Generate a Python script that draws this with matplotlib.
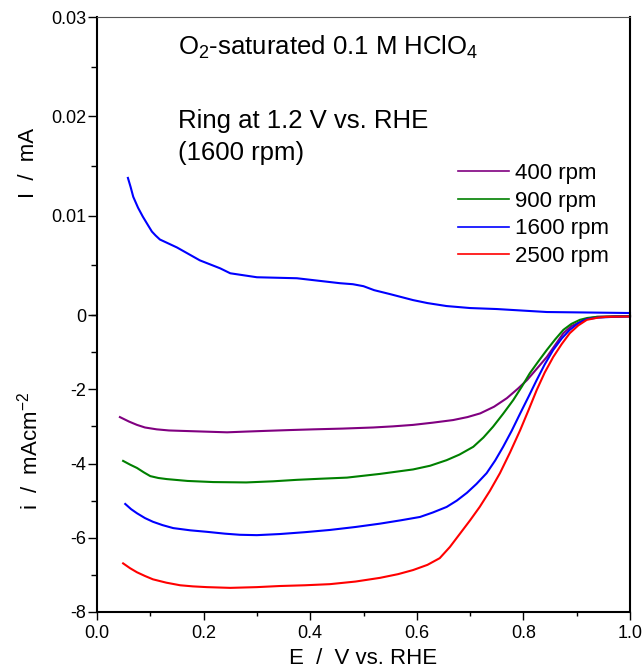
import matplotlib
matplotlib.use("Agg")
import matplotlib.pyplot as plt
from matplotlib.ticker import MultipleLocator, FixedLocator

plt.rcParams['font.family'] = ['Liberation Sans', 'DejaVu Sans']
plt.rcParams['mathtext.fontset'] = 'custom'
plt.rcParams['mathtext.rm'] = 'Liberation Sans'
plt.rcParams['mathtext.it'] = 'Liberation Sans:italic'
plt.rcParams['mathtext.bf'] = 'Liberation Sans:bold'
plt.rcParams['axes.unicode_minus'] = False

# ---------------- data ----------------
# Ring current (1600 rpm), mA
ring_E = [0.058, 0.063, 0.068, 0.077, 0.086, 0.095, 0.103, 0.110, 0.118, 0.150, 0.193,
          0.231, 0.250, 0.300, 0.375, 0.456, 0.480, 0.500, 0.520, 0.550, 0.593, 0.620,
          0.656, 0.700, 0.750, 0.844, 1.000]
ring_I = [0.0138, 0.0129, 0.0119, 0.0108, 0.0099, 0.0091, 0.0084, 0.0080, 0.0076, 0.0068,
          0.0055, 0.0047, 0.0042, 0.0038, 0.0037, 0.0032, 0.0031, 0.0029, 0.0025, 0.0021,
          0.0015, 0.0012, 0.0009, 0.0007, 0.0006, 0.0003, 0.0002]

# Disk current density, mA cm^-2
E_400 = [0.043, 0.060, 0.075, 0.090, 0.112, 0.135, 0.156, 0.200, 0.244, 0.280, 0.319,
         0.360, 0.406, 0.460, 0.518, 0.555, 0.593, 0.630, 0.668, 0.695, 0.719, 0.745,
         0.769, 0.790, 0.807, 0.825, 0.844, 0.860, 0.875, 0.890, 0.906, 0.920, 0.938,
         0.970, 1.000]
i_400 = [-2.75, -2.87, -2.96, -3.03, -3.08, -3.11, -3.12, -3.14, -3.16, -3.14, -3.12,
         -3.10, -3.08, -3.06, -3.03, -3.00, -2.96, -2.90, -2.83, -2.75, -2.65, -2.47,
         -2.24, -1.98, -1.75, -1.45, -1.13, -0.80, -0.49, -0.30, -0.19, -0.10, -0.05,
         -0.035, -0.03]

E_900 = [0.049, 0.062, 0.075, 0.088, 0.100, 0.115, 0.131, 0.170, 0.218, 0.280, 0.330,
         0.375, 0.420, 0.469, 0.531, 0.593, 0.625, 0.656, 0.680, 0.706, 0.725, 0.743,
         0.762, 0.781, 0.797, 0.812, 0.828, 0.844, 0.860, 0.875, 0.890, 0.906, 0.920,
         0.938, 1.000]
i_900 = [-3.93, -4.03, -4.12, -4.24, -4.34, -4.39, -4.42, -4.47, -4.50, -4.51, -4.48,
         -4.44, -4.41, -4.38, -4.28, -4.16, -4.06, -3.91, -3.76, -3.55, -3.30, -3.01,
         -2.66, -2.29, -1.93, -1.57, -1.25, -0.94, -0.65, -0.40, -0.24, -0.13, -0.08,
         -0.05, -0.03]

E_1600 = [0.053, 0.064, 0.075, 0.090, 0.105, 0.123, 0.143, 0.175, 0.206, 0.240, 0.268,
          0.300, 0.343, 0.390, 0.437, 0.485, 0.531, 0.570, 0.606, 0.630, 0.656, 0.675,
          0.694, 0.712, 0.731, 0.747, 0.762, 0.778, 0.794, 0.810, 0.825, 0.840, 0.856,
          0.872, 0.887, 0.903, 0.919, 0.940, 0.968, 1.000]
i_1600 = [-5.09, -5.23, -5.34, -5.47, -5.57, -5.66, -5.74, -5.80, -5.84, -5.89, -5.92,
          -5.93, -5.90, -5.85, -5.79, -5.71, -5.62, -5.53, -5.44, -5.32, -5.17, -5.00,
          -4.79, -4.55, -4.26, -3.92, -3.55, -3.12, -2.65, -2.19, -1.75, -1.33, -0.94,
          -0.63, -0.40, -0.22, -0.11, -0.07, -0.05, -0.04]

E_2500 = [0.049, 0.062, 0.075, 0.090, 0.105, 0.130, 0.156, 0.180, 0.206, 0.250, 0.300,
          0.343, 0.390, 0.437, 0.485, 0.531, 0.565, 0.593, 0.620, 0.643, 0.662, 0.681,
          0.700, 0.718, 0.737, 0.756, 0.775, 0.794, 0.810, 0.825, 0.840, 0.856, 0.872,
          0.887, 0.903, 0.919, 0.940, 0.956, 1.000]
i_2500 = [-6.69, -6.82, -6.93, -7.03, -7.12, -7.21, -7.28, -7.31, -7.33, -7.35, -7.33,
          -7.30, -7.28, -7.25, -7.18, -7.08, -6.98, -6.87, -6.73, -6.55, -6.25, -5.89,
          -5.53, -5.17, -4.74, -4.26, -3.70, -3.10, -2.55, -2.02, -1.55, -1.13, -0.78,
          -0.49, -0.28, -0.13, -0.07, -0.05, -0.04]

labels = ['400 rpm', '900 rpm', '1600 rpm', '2500 rpm']
colors = ['#800080', '#008000', '#0000ff', '#ff0000']

# ---------------- figure ----------------
W, H = 644, 668
fig = plt.figure(figsize=(W / 100, H / 100), dpi=100)

L, R, T, M, B = 97, 630, 17, 315, 612
ax_top = fig.add_axes([L / W, 1 - M / H, (R - L) / W, (M - T) / H])
ax_bot = fig.add_axes([L / W, 1 - B / H, (R - L) / W, (B - M) / H])

for ax in (ax_top, ax_bot):
    ax.set_xlim(0, 1.0)
    ax.spines['left'].set_linewidth(1.5)
    ax.spines['right'].set_linewidth(1.5)
    ax.spines['bottom'].set_linewidth(1.5)
    ax.tick_params(which='both', direction='out', right=False, top=False,
                   labelsize=13, width=1.0, pad=1.5)
    ax.tick_params(which='major', length=6.5)
    ax.tick_params(which='minor', length=4.2)
    ax.xaxis.set_major_locator(MultipleLocator(0.2))
    ax.xaxis.set_minor_locator(MultipleLocator(0.1))

# top axes
ax_top.set_ylim(0, 0.03)
ax_top.yaxis.set_major_locator(FixedLocator([0, 0.01, 0.02, 0.03]))
ax_top.yaxis.set_major_formatter(plt.FuncFormatter(lambda v, p: '0' if abs(v) < 1e-12 else f'{v:.2f}'))
ax_top.yaxis.set_minor_locator(MultipleLocator(0.005))
ax_top.spines['bottom'].set_visible(False)
ax_top.spines['top'].set_linewidth(0.8)
ax_top.spines['top'].set_color('#555555')
ax_top.tick_params(axis='x', which='both', bottom=False, labelbottom=False)
ax_top.plot(ring_E, ring_I, color='#0000ff', lw=1.5, clip_on=False)

# bottom axes
ax_bot.set_ylim(-8, 0)
ax_bot.yaxis.set_major_locator(FixedLocator([-8, -6, -4, -2]))
ax_bot.yaxis.set_major_formatter(plt.FuncFormatter(lambda v, p: f'{int(round(v))}'))
ax_bot.yaxis.set_minor_locator(FixedLocator([-7, -5, -3, -1, 0]))
ax_bot.spines['top'].set_visible(False)
ax_bot.tick_params(axis='x', which='major', length=6)
ax_bot.tick_params(axis='x', which='minor', length=3)
ax_bot.tick_params(axis='x', which='both', pad=3)
ax_bot.xaxis.set_major_formatter(plt.FuncFormatter(lambda v, p: f'{v:.1f}'))

series = [(E_400, i_400), (E_900, i_900), (E_1600, i_1600), (E_2500, i_2500)]
handles = []
for (e, i), c, lab in zip(series, colors, labels):
    h, = ax_bot.plot(e, i, color=c, lw=1.5, label=lab, clip_on=False)
    handles.append(h)

# legend in top axes
leg = ax_top.legend(handles, labels, loc='upper left', bbox_to_anchor=(0.677, 0.51),
                    frameon=False, fontsize=16, handlelength=2.3, handletextpad=0.25,
                    labelspacing=0.3, borderpad=0, borderaxespad=0)
for lh in leg.get_lines():
    lh.set_linewidth(1.2)

# annotations
ax_top.text(0.152, 0.872, r'O$\mathregular{_2}$-saturated 0.1 M HClO$\mathregular{_4}$',
            transform=ax_top.transAxes, fontsize=18.5, va='baseline', ha='left')
ax_top.text(0.152, 0.628, 'Ring at 1.2 V vs. RHE', transform=ax_top.transAxes,
            fontsize=18.5, va='baseline', ha='left')
ax_top.text(0.152, 0.520, '(1600 rpm)', transform=ax_top.transAxes,
            fontsize=18.5, va='baseline', ha='left')

# axis labels
fig.text(28 / W, 1 - 163 / H, 'I  /  mA', rotation=90, ha='center', va='center', fontsize=16)
fig.text(30 / W, 1 - 451 / H, r'i  /  mAcm$\mathregular{^{-2}}$', rotation=90,
         ha='center', va='center', fontsize=16)
fig.text(363 / W, 1 - 659 / H, 'E  /  V vs. RHE', ha='center', va='center', fontsize=16)

fig.savefig('out.png', dpi=100)
